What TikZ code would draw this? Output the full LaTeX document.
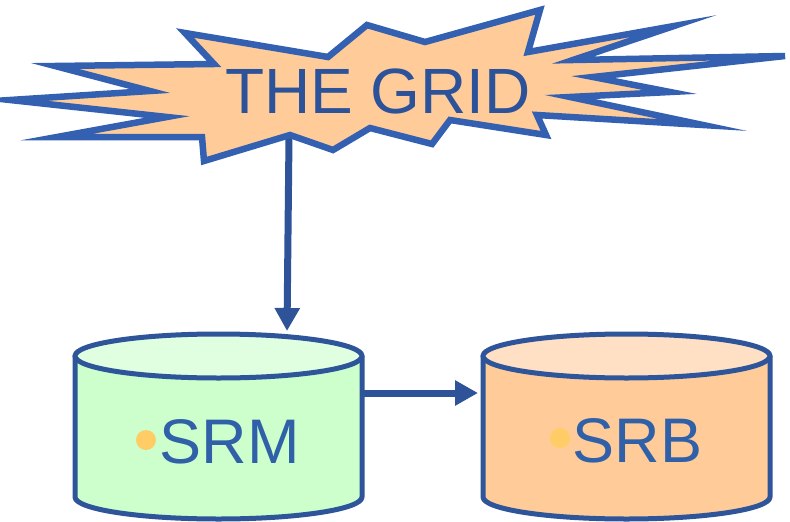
\documentclass[tikz,border=0pt]{standalone}
\usepackage{fontspec}
\setmainfont{Liberation Sans}
\usetikzlibrary{arrows.meta}
\definecolor{starline}{HTML}{3360B0}
\definecolor{starfill}{HTML}{FFCC99}
\definecolor{cylline}{HTML}{2E5599}
\definecolor{arrowcol}{HTML}{2E5399}
\definecolor{txtcol}{HTML}{3060A8}
\definecolor{gridtxt}{HTML}{2C5299}
\definecolor{greenbody}{HTML}{CCFFCC}
\definecolor{greentop}{HTML}{E0FFE0}
\definecolor{orangebody}{HTML}{FFCC99}
\definecolor{orangetop}{HTML}{FFE0C4}
\definecolor{bulletcol}{HTML}{FFCC66}
\tikzset{
  cylstroke/.style={draw=cylline, line width=5pt, line join=round},
  conn/.style={draw=arrowcol, line width=7pt, -{Triangle[length=23pt,width=24pt]}},
  bigtext/.style={inner sep=0pt, anchor=base, font=\fontsize{63}{63}\selectfont},
  bulletdot/.style={circle, fill=bulletcol, inner sep=0pt, minimum size=20pt}
}
\begin{document}
\begin{tikzpicture}[x=1pt,y=-1pt]
\useasboundingbox (0,0) rectangle (790,522);
% coordinates
\coordinate (starbot) at (289,137);
\coordinate (srmtop) at (287,331);
\coordinate (srmright) at (362,393);
\coordinate (srbleft) at (478,393);
% connectors
\draw[conn] (starbot) -- (srmtop);
\draw[conn] (srmright) -- (srbleft);
% star
\filldraw[draw=starline, fill=starfill, line width=6.5pt, line join=miter, miter limit=20]
 (10,100) -- (150,91) -- (55,66) -- (214,64) -- (185,33) -- (328,57) -- (367,25)
 -- (425,42) -- (540,10) -- (528,52) -- (674,26) -- (573,60) -- (785,56)
 -- (593,77) -- (670,92) -- (570,97) -- (703,125) -- (537,115) -- (546,135)
 -- (450,120) -- (432,144) -- (370,128) -- (333,150) -- (290,135) -- (204,161)
 -- (202,137) -- (57,137) -- (167,117) -- cycle;
\node[bigtext, text=gridtxt, font=\fontsize{64}{64}\selectfont] (grid) at (378,113) {THE GRID};
% SRM cylinder
\path[cylstroke, fill=greenbody] (75,356) -- (75,497) arc[start angle=180, end angle=360, x radius=143.5, y radius=-22] -- (362,356) -- cycle;
\filldraw[cylstroke, fill=greentop] (218.5,356) ellipse [x radius=143.5, y radius=22];
\node[bigtext, text=txtcol] (srm) at (229.5,463) {SRM};
\node[bulletdot] (srmdot) at (146,440) {};
% SRB cylinder
\path[cylstroke, fill=orangebody] (483,356) -- (483,497) arc[start angle=180, end angle=360, x radius=143.5, y radius=-22] -- (770,356) -- cycle;
\filldraw[cylstroke, fill=orangetop] (626.5,356) ellipse [x radius=143.5, y radius=22];
\node[bigtext, text=txtcol] (srb) at (637.5,462) {SRB};
\node[bulletdot] (srbdot) at (560,438) {};
\end{tikzpicture}
\end{document}
